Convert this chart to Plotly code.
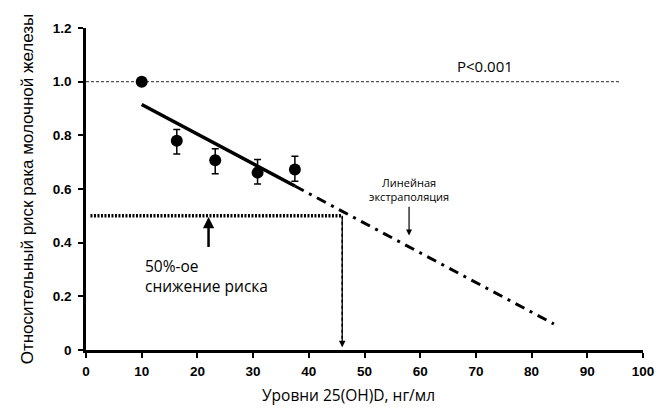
import plotly.graph_objects as go

# Data
pts_x = [10, 16.3, 23.2, 30.8, 37.5]
pts_y = [1.0, 0.78, 0.707, 0.661, 0.673]
err_plus = [0.0, 0.042, 0.043, 0.049, 0.049]
err_minus = [0.0, 0.05, 0.05, 0.042, 0.044]

fit_x = [10, 37.5]
fit_y = [0.915, 0.611]
extrap_x = [37.5, 84]
extrap_y = [0.611, 0.097]

ref_x = [0, 96]
ref_y = [1.0, 1.0]
half_x = [0.8, 46]
half_y = [0.5, 0.5]
half_level_x = 46

xticks = [0, 10, 20, 30, 40, 50, 60, 70, 80, 90, 100]
yticks = [0, 0.2, 0.4, 0.6, 0.8, 1.0, 1.2]
ytick_text = ["0", "0.2", "0.4", "0.6", "0.8", "1.0", "1.2"]

fig = go.Figure()

fig.add_trace(go.Scatter(x=ref_x, y=ref_y, mode="lines",
                         line=dict(color="#555555", width=1.2, dash="3px,2px"),
                         hoverinfo="skip"))
fig.add_trace(go.Scatter(x=half_x, y=half_y, mode="lines",
                         line=dict(color="black", width=3.5, dash="2px,1.5px"),
                         hoverinfo="skip"))
fig.add_trace(go.Scatter(x=fit_x, y=fit_y, mode="lines",
                         line=dict(color="black", width=3.5), hoverinfo="skip"))
fig.add_trace(go.Scatter(x=extrap_x, y=extrap_y, mode="lines",
                         line=dict(color="black", width=3, dash="10px,6px,3px,6px"),
                         hoverinfo="skip"))
fig.add_trace(go.Scatter(x=pts_x, y=pts_y, mode="markers",
                         marker=dict(color="black", size=12),
                         error_y=dict(type="data", symmetric=False,
                                      array=err_plus, arrayminus=err_minus,
                                      color="black", thickness=1.5, width=3.5)))

annotations = [
    dict(x=half_level_x, y=0.01, ax=half_level_x, ay=0.5, xref="x", yref="y",
         axref="x", ayref="y", showarrow=True, arrowhead=2, arrowsize=1,
         arrowwidth=1.3, arrowcolor="black", text=""),
    dict(x=22, y=0.496, ax=22, ay=0.378, xref="x", yref="y",
         axref="x", ayref="y", showarrow=True, arrowhead=2, arrowsize=0.9,
         arrowwidth=2.5, arrowcolor="black", text=""),
    dict(x=58, y=0.427, ax=58, ay=0.539, xref="x", yref="y",
         axref="x", ayref="y", showarrow=True, arrowhead=2, arrowsize=1,
         arrowwidth=1.2, arrowcolor="black", text=""),
    dict(x=10.2, y=0.275, xref="x", yref="y", showarrow=False,
         text="50%-ое<br>снижение риска", align="left", xanchor="left",
         font=dict(family="Open Sans", size=15.5, color="black")),
    dict(x=58, y=0.6, xref="x", yref="y", showarrow=False,
         text="Линейная<br>экстраполяция", align="center",
         font=dict(family="Open Sans", size=11, color="black")),
    dict(x=71.6, y=1.06, xref="x", yref="y", showarrow=False,
         text="P<0.001",
         font=dict(family="Open Sans", size=15, color="black")),
    # x-axis title (offset left of centre, as in the reference)
    dict(x=47.1, y=-0.14, xref="x", yref="paper", showarrow=False,
         text="Уровни 25(OH)D, нг/мл", yanchor="middle",
         font=dict(family="Open Sans", size=15.5, color="black")),
]

fig.add_shape(type="line", x0=half_level_x, x1=half_level_x, y0=0.02, y1=0.5,
              xref="x", yref="y", line=dict(color="black", width=1.5, dash="dot"))

fig.update_layout(
    width=667, height=409,
    margin=dict(l=86, r=24, t=28, b=59),
    paper_bgcolor="white", plot_bgcolor="white",
    showlegend=False,
    annotations=annotations,
    xaxis=dict(range=[0, 100], tickvals=xticks, showgrid=False, zeroline=False,
               automargin=False, ticklabeloverflow="allow",
               showline=True, linecolor="black", linewidth=2.5,
               ticks="outside", ticklen=5, tickwidth=2, tickcolor="black",
               ticklabelstandoff=2,
               tickfont=dict(family="Liberation Sans", size=13.5, color="black", weight="bold")),
    yaxis=dict(range=[0, 1.2], tickvals=yticks, ticktext=ytick_text,
               showgrid=False, zeroline=False,
               automargin=False, ticklabeloverflow="allow",
               showline=True, linecolor="black", linewidth=2.5,
               ticks="outside", ticklen=5, tickwidth=2, tickcolor="black",
               ticklabelstandoff=4,
               tickfont=dict(family="Liberation Sans", size=13.5, color="black", weight="bold"),
               title=dict(text="Относительный риск рака молочной железы", standoff=15,
                          font=dict(family="Liberation Sans", size=17, color="black"))),
)

fig.write_html("out.html")
